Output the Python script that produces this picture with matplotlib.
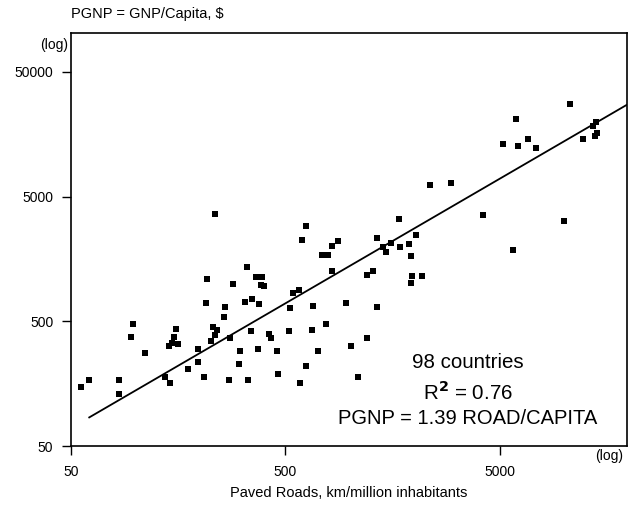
import matplotlib
matplotlib.use('Agg')
import matplotlib.pyplot as plt
import numpy as np

plt.rcParams['font.family'] = ['Liberation Sans', 'DejaVu Sans']

# paved roads, km per million inhabitants (x) and GNP per capita, $ (y)
roads = [56, 61, 84, 84, 98, 96, 111, 138, 145, 144,
         149, 151, 155, 158, 176, 195, 197, 208, 213, 217,
         235, 225, 230, 235, 240, 260, 263, 277, 273, 286,
         307, 303, 333, 324, 336, 349, 347, 365, 388, 385,
         398, 377, 372, 420, 430, 456, 464, 519, 526, 545,
         577, 600, 623, 588, 623, 673, 668, 708, 744, 791,
         826, 881, 826, 772, 960, 1009, 1095, 1206,
         2372, 2962, 1694, 1338, 1432, 1474, 1561, 1718, 1881, 2040,
         1934, 1955, 2177, 1934, 1199, 1278, 4162, 1338,
         10585, 5930, 5190, 6099, 6765, 7374, 12210, 13640, 13995, 13840,
         14190, 9958, 5740]
gnp = [149, 169, 168, 130, 472, 374, 278, 180, 159, 318,
       333, 376, 436, 327, 207, 298, 236, 179, 704, 1090,
       3597, 347, 447, 388, 425, 544, 654, 369, 169, 994,
       287, 228, 1368, 709, 168, 758, 415, 1131, 1131, 976,
       953, 691, 298, 397, 369, 287, 190, 418, 642, 846,
       894, 2252, 2916, 159, 219, 662, 425, 287, 1688, 1688,
       2015, 2210, 1264, 472, 696, 318, 180, 369,
       6146, 6447, 3317, 2336, 1957, 1785, 2118, 1957, 2091, 2441,
       1676, 1146, 1146, 1007, 1180, 1264, 3532, 646,
       27380, 20885, 13165, 12690, 14435, 12230, 14515, 18460, 19870, 15345,
       16040, 3197, 1851]

slope = 1.39
fit_x = [61, 19500]
x_ticks = [50, 500, 5000]
y_ticks = [50, 500, 5000, 50000]

fig = plt.figure(figsize=(6.33, 5.08), dpi=100)
ax = fig.add_axes([0.1117, 0.122, 0.8783, 0.8124])

ax.plot(roads, gnp, 's', color='black', markersize=3.8, markeredgewidth=0)
ax.plot(fit_x, [slope * v for v in fit_x], color='black', lw=1.3)

ax.set_xscale('log')
ax.set_yscale('log')
ax.set_xlim(50, 19500)
ax.set_ylim(50, 101600)
ax.minorticks_off()
ax.set_xticks(x_ticks)
ax.set_xticklabels([str(v) for v in x_ticks])
ax.set_yticks(y_ticks)
ax.set_yticklabels([str(v) for v in y_ticks])
ax.tick_params(axis='both', direction='out', length=6.5, width=1.0,
               labelsize=10, colors='black')
ax.tick_params(axis='x', pad=7.5)
ax.tick_params(axis='y', pad=6)
for s in ax.spines.values():
    s.set_linewidth(1.2)

ax.text(0.7146, 0.1883, '98 countries', transform=ax.transAxes,
        ha='center', va='baseline', fontsize=14.8)
ax.text(0.7146, 0.1115, r'R$^{\mathbf{2}}$ = 0.76', transform=ax.transAxes,
        ha='center', va='baseline', fontsize=14.8)
ax.text(0.7146, 0.0526, 'PGNP = 1.39 ROAD/CAPITA', transform=ax.transAxes,
        ha='center', va='baseline', fontsize=14.5)

fig.text(70.7 / 633, 1 - 14 / 508, 'PGNP = GNP/Capita, $', ha='left', va='center', fontsize=10.5)
fig.text(68 / 633, 1 - 45 / 508, '(log)', ha='right', va='center', fontsize=10)
fig.text(609 / 633, 1 - 456 / 508, '(log)', ha='center', va='center', fontsize=10)
fig.text(349 / 633, 1 - 493 / 508, 'Paved Roads, km/million inhabitants',
         ha='center', va='center', fontsize=10.5)

fig.savefig('out.png', dpi=100)
